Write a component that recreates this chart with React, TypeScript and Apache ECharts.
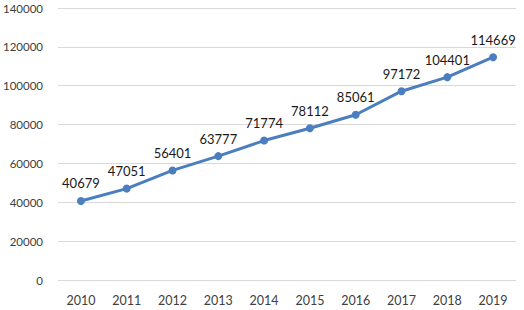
import React, { useEffect, useRef } from "react";
import * as echarts from "echarts";

const years = ["2010", "2011", "2012", "2013", "2014", "2015", "2016", "2017", "2018", "2019"];
const values = [40679, 47051, 56401, 63777, 71774, 78112, 85061, 97172, 104401, 114669];
const yMin = 0;
const yMax = 140000;
const yInterval = 20000;

export default function App() {
  const ref = useRef<HTMLDivElement>(null);
  useEffect(() => {
    if (!ref.current) return;
    const chart = echarts.init(ref.current, undefined, { renderer: "svg" });
    chart.setOption({
      animation: false,
      backgroundColor: "#ffffff",
      textStyle: { fontFamily: "Lato" },
      grid: { left: 57, right: 8, top: 8, bottom: 30, containLabel: false },
      xAxis: {
        type: "category",
        data: years,
        boundaryGap: true,
        axisLine: { show: false },
        axisTick: { show: false },
        axisLabel: { color: "#404040", fontSize: 12.5, margin: 14, fontFamily: "Lato" },
      },
      yAxis: {
        type: "value",
        min: yMin,
        max: yMax,
        interval: yInterval,
        axisLine: { show: false },
        axisTick: { show: false },
        splitLine: { lineStyle: { color: "#d9d9d9", width: 1 } },
        axisLabel: {
          color: "#404040",
          fontSize: 11.5,
          margin: 15,
          fontFamily: "Lato",
          formatter: (v: number) => String(v),
        },
      },
      series: [
        {
          type: "line",
          data: values,
          symbol: "circle",
          symbolSize: 8,
          lineStyle: { color: "#4a7ebf", width: 3 },
          itemStyle: { color: "#4a7ebf" },
          label: {
            show: true,
            position: "top",
            distance: 7,
            color: "#1a1a1a",
            fontSize: 13,
            fontFamily: "Lato",
          },
        },
      ],
    });
    return () => chart.dispose();
  }, []);
  return (
    <div
      ref={ref}
      style={{ position: "absolute", left: 0, top: 0, width: 524, height: 310 }}
    />
  );
}
